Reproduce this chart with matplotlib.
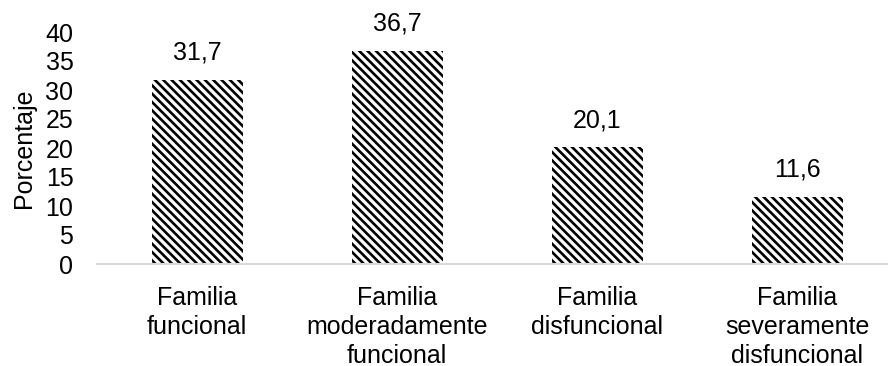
import matplotlib.pyplot as plt

plt.rcParams['font.family'] = ['Liberation Sans', 'DejaVu Sans']
plt.rcParams['hatch.linewidth'] = 1.9
plt.rcParams['hatch.color'] = 'black'

categorias = ['Familia\nfuncional', 'Familia\nmoderadamente\nfuncional',
              'Familia\ndisfuncional', 'Familia\nseveramente\ndisfuncional']
porcentajes = [31.7, 36.7, 20.1, 11.6]
etiquetas = ['31,7', '36,7', '20,1', '11,6']
yticks = [0, 5, 10, 15, 20, 25, 30, 35, 40]

fs = 18

fig = plt.figure(figsize=(8.88, 3.66), dpi=100)
ax = fig.add_axes([97 / 888, 102 / 366, 800 / 888, 232 / 366])

x = range(len(categorias))
barras = ax.bar(x, porcentajes, width=0.455, color='white', edgecolor='black',
                linewidth=0, hatch='\\\\\\\\')

for b, txt in zip(barras, etiquetas):
    ax.annotate(txt, (b.get_x() + b.get_width() / 2, b.get_height()),
                xytext=(0, 11), textcoords='offset points',
                ha='center', va='bottom', fontsize=fs)

ax.set_xlim(-0.5, 3.5)
ax.set_ylim(0, 40)
ax.set_yticks(yticks)
ax.set_yticklabels([str(t) for t in yticks])
ax.set_xticks(list(x))
ax.set_xticklabels(categorias, fontsize=fs, linespacing=1.25)
ax.tick_params(axis='y', length=0, labelsize=fs, pad=17)
ax.tick_params(axis='x', length=0, pad=16)
ax.set_ylabel('Porcentaje', fontsize=fs, labelpad=7)

for s in ['top', 'right', 'left']:
    ax.spines[s].set_visible(False)
ax.spines['bottom'].set_color('#d9d9d9')
ax.spines['bottom'].set_linewidth(1.5)

fig.savefig('out.png', dpi=100)
